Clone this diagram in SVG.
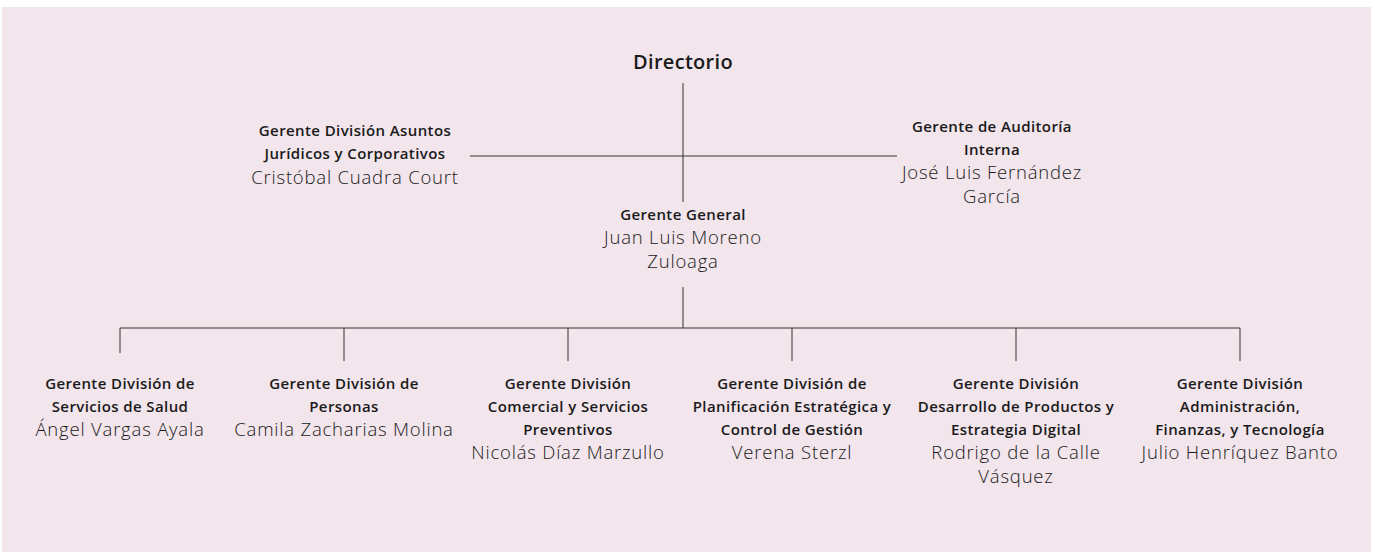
<svg xmlns="http://www.w3.org/2000/svg" width="1375" height="554" viewBox="0 0 1375 554">
<style>
text{font-family:"Open Sans","Liberation Sans",sans-serif;fill:#1a1a1a;text-anchor:middle}
.b{font-weight:600;font-size:15px;letter-spacing:0.4px}
.n{font-weight:300;font-size:18.5px;letter-spacing:0.8px}
.t{font-weight:600;font-size:20px;letter-spacing:0.3px}
.c{stroke:#333;stroke-width:1;fill:none}
</style>
<rect x="2" y="7" width="1369" height="545" fill="#f2e5ec"/>
<g id="connectors" class="c">
<line x1="683" y1="83" x2="683" y2="202"/>
<line x1="470" y1="156" x2="897" y2="156"/>
<line x1="683" y1="287" x2="683" y2="328"/>
<line x1="120" y1="328" x2="1240" y2="328"/>
<line x1="120" y1="328" x2="120" y2="353"/>
<line x1="344" y1="328" x2="344" y2="361"/>
<line x1="568" y1="328" x2="568" y2="361"/>
<line x1="792" y1="328" x2="792" y2="361"/>
<line x1="1016" y1="328" x2="1016" y2="361"/>
<line x1="1240" y1="328" x2="1240" y2="361"/>
</g>
<g id="directorio"><text class="t" x="683" y="69">Directorio</text></g>
<g id="juridicos">
<text class="b" x="355" y="136">Gerente División Asuntos</text>
<text class="b" x="355" y="159">Jurídicos y Corporativos</text>
<text class="n" x="355" y="184">Cristóbal Cuadra Court</text>
</g>
<g id="auditoria">
<text class="b" x="992" y="132">Gerente de Auditoría</text>
<text class="b" x="992" y="155">Interna</text>
<text class="n" x="992" y="179">José Luis Fernández</text>
<text class="n" x="992" y="203">García</text>
</g>
<g id="general">
<text class="b" x="683" y="220">Gerente General</text>
<text class="n" x="683" y="244">Juan Luis Moreno</text>
<text class="n" x="683" y="268">Zuloaga</text>
</g>
<g id="salud">
<text class="b" x="120" y="389">Gerente División de</text>
<text class="b" x="120" y="412">Servicios de Salud</text>
<text class="n" x="120" y="436">Ángel Vargas Ayala</text>
</g>
<g id="personas">
<text class="b" x="344" y="389">Gerente División de</text>
<text class="b" x="344" y="412">Personas</text>
<text class="n" x="344" y="436">Camila Zacharias Molina</text>
</g>
<g id="comercial">
<text class="b" x="568" y="389">Gerente División</text>
<text class="b" x="568" y="412">Comercial y Servicios</text>
<text class="b" x="568" y="435">Preventivos</text>
<text class="n" x="568" y="459">Nicolás Díaz Marzullo</text>
</g>
<g id="planificacion">
<text class="b" x="792" y="389">Gerente División de</text>
<text class="b" x="792" y="412">Planificación Estratégica y</text>
<text class="b" x="792" y="435">Control de Gestión</text>
<text class="n" x="792" y="459">Verena Sterzl</text>
</g>
<g id="desarrollo">
<text class="b" x="1016" y="389">Gerente División</text>
<text class="b" x="1016" y="412">Desarrollo de Productos y</text>
<text class="b" x="1016" y="435">Estrategia Digital</text>
<text class="n" x="1016" y="459">Rodrigo de la Calle</text>
<text class="n" x="1016" y="483">Vásquez</text>
</g>
<g id="administracion">
<text class="b" x="1240" y="389">Gerente División</text>
<text class="b" x="1240" y="412">Administración,</text>
<text class="b" x="1240" y="435">Finanzas, y Tecnología</text>
<text class="n" x="1240" y="459">Julio Henríquez Banto</text>
</g>
</svg>
